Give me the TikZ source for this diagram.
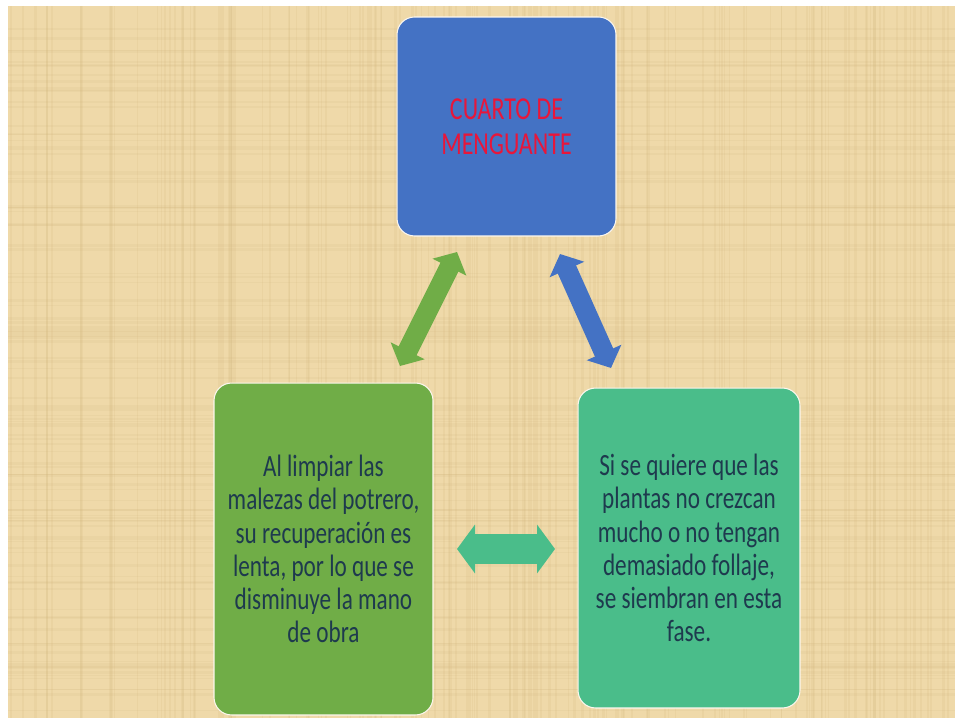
\documentclass[tikz,border=0pt]{standalone}
\usepackage{fontspec}
\setmainfont{Carlito}
\newfontfamily\tallfont{Carlito}[FakeStretch=0.75]
\usetikzlibrary{arrows.meta}

\definecolor{papyrus}{RGB}{239,217,169}
\definecolor{fiber}{RGB}{208,180,124}
\definecolor{boxblue}{RGB}{68,114,196}
\definecolor{boxgreen}{RGB}{112,173,71}
\definecolor{boxteal}{RGB}{74,189,138}
\definecolor{titlered}{RGB}{232,22,58}
\definecolor{bodyink}{RGB}{30,58,78}

\newcommand{\bodyfont}{\tallfont\fontsize{17.6}{18.9}\selectfont}
\newcommand{\titlefont}{\tallfont\fontsize{18.2}{19.8}\selectfont}

\tikzset{
  phasebox/.style={rounded corners=0.35cm, inner sep=0pt, align=center,
    draw=white!80!papyrus, line width=0.6pt},
  thinlink/.style={line width=0.4cm, line cap=butt,
    {Triangle[width=0.74cm,length=0.34cm]}-{Triangle[width=0.74cm,length=0.34cm]}},
  widelink/.style={line width=0.6cm, line cap=butt,
    {Triangle[width=0.96cm,length=0.36cm]}-{Triangle[width=0.96cm,length=0.36cm]}},
}

\begin{document}
\begin{tikzpicture}[x=0.02cm, y=-0.02cm]
  \useasboundingbox (0,0) rectangle (955,722);

  % Papyrus background
  \fill[papyrus] (8,6) rectangle (955,718);
  \pgfmathsetseed{4217}
  \foreach \i in {1,...,140}{
    \pgfmathsetmacro\xx{8+947*rnd}
    \pgfmathsetmacro\ww{0.4+1.4*rnd}
    \draw[fiber, opacity=0.16, line width=\ww pt] (\xx,6) -- (\xx,718);
  }
  \foreach \i in {1,...,110}{
    \pgfmathsetmacro\yy{6+712*rnd}
    \pgfmathsetmacro\ww{0.4+1.2*rnd}
    \draw[fiber, opacity=0.13, line width=\ww pt] (8,\yy) -- (955,\yy);
  }

  % Boxes
  \node[phasebox, fill=boxblue, minimum width=4.38cm, minimum height=4.38cm,
        text=titlered, font=\titlefont] (menguante) at (506.5,126.5)
        {CUARTO DE\\MENGUANTE};
  \node[phasebox, fill=boxgreen, minimum width=4.38cm, minimum height=6.64cm,
        text=bodyink, font=\bodyfont] (potrero) at (323.5,549)
        {Al limpiar las\\malezas del potrero,\\su recuperación es\\lenta, por lo que se\\disminuye la mano\\de obra};
  \node[phasebox, fill=boxteal, minimum width=4.44cm, minimum height=6.4cm,
        text=bodyink, font=\bodyfont] (siembra) at (689,548)
        {Si se quiere que las\\plantas no crezcan\\mucho o no tengan\\demasiado follaje,\\se siembran en esta\\fase.};

  % Arrow ends
  \coordinate (g1) at (457,252);
  \coordinate (g2) at (400,366);
  \coordinate (b1) at (560,254);
  \coordinate (b2) at (611,368);
  \coordinate (t1) at (457,549);
  \coordinate (t2) at (555,549);

  % Double arrows
  \draw[boxgreen, thinlink] (g1) -- (g2);
  \draw[boxblue, thinlink] (b1) -- (b2);
  \draw[boxteal, widelink] (t1) -- (t2);
\end{tikzpicture}
\end{document}
